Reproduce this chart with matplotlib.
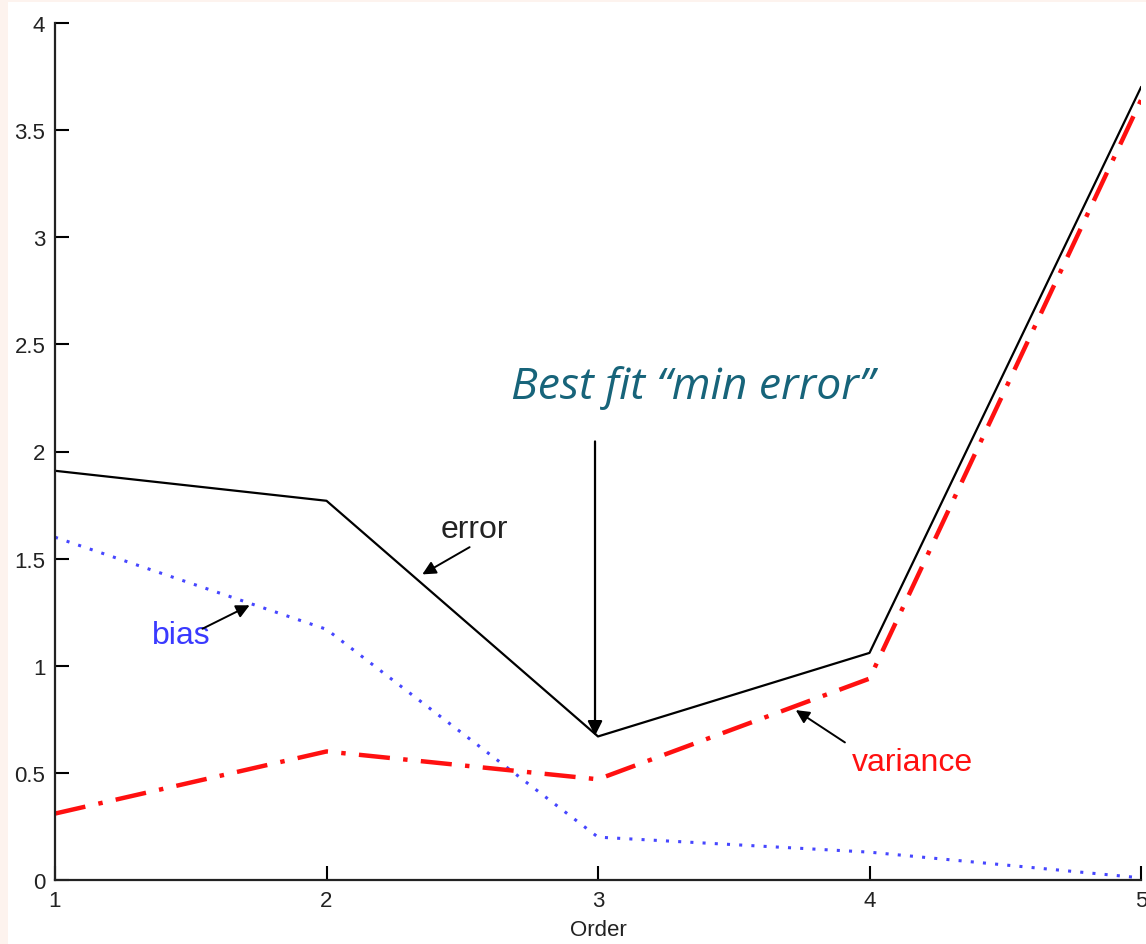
import matplotlib.pyplot as plt
from matplotlib.patches import Rectangle

plt.rcParams['font.family'] = ['Liberation Sans', 'DejaVu Sans']

order = [1, 2, 3, 4, 5]
error = [1.91, 1.77, 0.67, 1.06, 3.70]
bias = [1.60, 1.17, 0.20, 0.13, 0.01]
variance = [0.31, 0.60, 0.47, 0.94, 3.64]

fig = plt.figure(figsize=(11.46, 9.45), dpi=100, facecolor='#fdf3ee')
# white page area inside the pale border
page = Rectangle((8 / 1146, 0), 1 - 8 / 1146, 1 - 3 / 945,
                 transform=fig.transFigure, facecolor='white',
                 edgecolor='none', zorder=-10)
fig.add_artist(page)

ax = fig.add_axes([55 / 1146, (945 - 881) / 945, (1141 - 55) / 1146, (881 - 24) / 945])
ax.set_facecolor('none')
ax.set_zorder(5)

ax.plot(order, bias, color='#4646ff', linestyle=(0, (1, 3)), lw=2.2)
ax.plot(order, variance, color='#ff1010', linestyle=(0, (7, 3, 1, 3)), lw=3.2)
ax.plot(order, error, color='black', lw=1.6)

ax.set_xlim(1, 5)
ax.set_ylim(0, 4)
ax.set_xticks([1, 2, 3, 4, 5])
ax.set_yticks([0, 0.5, 1, 1.5, 2, 2.5, 3, 3.5, 4])
ax.set_yticklabels(['0', '0.5', '1', '1.5', '2', '2.5', '3', '3.5', '4'])
ax.tick_params(direction='in', length=10, width=1.5, labelsize=16, colors='black',
               labelcolor='#222222', pad=7)
for s in ['top', 'right']:
    ax.spines[s].set_visible(False)
for s in ['left', 'bottom']:
    ax.spines[s].set_linewidth(1.6)
    ax.spines[s].set_color('#222222')
ax.set_xlabel('Order', fontsize=16, color='#222222', labelpad=6)

arrow = dict(arrowstyle='-|>', color='black', lw=1.4, mutation_scale=20)
ax.text(2.545, 1.64, 'error', fontsize=23, color='#222222', ha='center', va='center')
ax.annotate('', xy=(2.344, 1.42), xytext=(2.536, 1.56), arrowprops=arrow)
ax.text(1.464, 1.145, 'bias', fontsize=23, color='#3a3aff', ha='center', va='center')
ax.annotate('', xy=(1.726, 1.288), xytext=(1.534, 1.167), arrowprops=arrow)
ax.text(4.16, 0.55, 'variance', fontsize=23, color='#ff1010', ha='center', va='center')
ax.annotate('', xy=(3.72, 0.80), xytext=(3.918, 0.635), arrowprops=arrow)

ax.text(3.35, 2.30, 'Best fit \u201cmin error\u201d', fontsize=32, style='italic',
        family=['Open Sans', 'DejaVu Sans'], color='#17647a', ha='center', va='center')
ax.annotate('', xy=(2.989, 0.66), xytext=(2.989, 2.06),
            arrowprops=dict(arrowstyle='-|>', color='black', lw=1.6, mutation_scale=22))

fig.savefig('out.png', dpi=100, facecolor=fig.get_facecolor())
